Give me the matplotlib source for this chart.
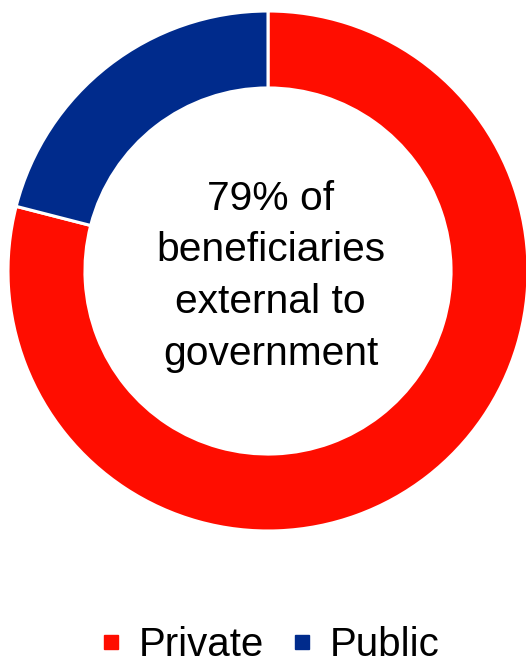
import matplotlib
matplotlib.use("Agg")
import matplotlib.pyplot as plt
from matplotlib.lines import Line2D

plt.rcParams['font.family'] = ['Liberation Sans', 'DejaVu Sans']

categories = ["Private", "Public"]
shares = [79, 21]
colors = ["#FF0D00", "#002B8C"]
center_text = "79% of\nbeneficiaries\nexternal to\ngovernment"

W, H = 526, 664
fig = plt.figure(figsize=(W / 100, H / 100), dpi=100)
ax = fig.add_axes([0, 0, 1, 1])

cx, cy, r = 268, 271, 260
ax.pie(shares, colors=colors, startangle=90, counterclock=False, radius=1,
       wedgeprops=dict(width=0.296, edgecolor="white", linewidth=2.2))
ax.set_xlim(-cx / r, (W - cx) / r)
ax.set_ylim(-(H - cy) / r, cy / r)
ax.set_aspect("equal")
ax.axis("off")

ax.text(0.01, -0.02, center_text, ha="center", va="center", fontsize=29.3,
        linespacing=1.46, color="black")

handles = [Line2D([], [], marker="s", linestyle="none", markersize=10,
                  markerfacecolor=c, markeredgecolor=c) for c in colors]
fig.legend(handles, categories, loc="lower center", bbox_to_anchor=(0.508, -0.055),
           ncol=2, frameon=False, fontsize=29, handletextpad=0.29,
           columnspacing=0.55, handlelength=0.8)

fig.savefig("out.png", dpi=100)
